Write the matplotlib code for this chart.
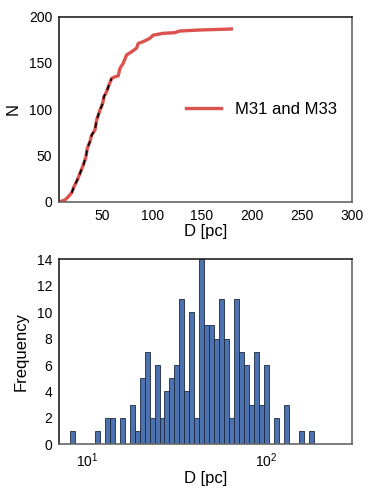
import numpy as np
import matplotlib
matplotlib.use("Agg")
import matplotlib.pyplot as plt

plt.rcParams['font.family'] = ['Liberation Sans', 'DejaVu Sans']

# curva acumulada N(D)
d_cum = [7.7, 12.7, 16.0, 19.4, 21.7, 25.0, 27.7, 31.0, 33.7, 35.0, 37.7, 39.4,
         42.7, 44.4, 47.7, 50.4, 51.7, 54.4, 56.7, 59.4, 62.7, 66.0, 67.7, 71.0,
         74.4, 79.4, 84.4, 86.0, 91.0, 97.7, 101.0, 111.0, 122.7, 127.7, 147.7, 179.4]
n_cum = [0, 1.8, 5.4, 9.7, 16.2, 23.4, 30.6, 39.6, 48.6, 57.7, 64.9, 72.0,
         77.5, 88.3, 99.0, 106.0, 113.5, 119.0, 126.0, 133.3, 135.0, 136.0, 144.0, 149.5,
         158.6, 162.0, 166.0, 171.0, 173.0, 176.6, 180.0, 182.0, 182.7, 184.5, 185.6, 186.7]

# tramo con linea negra discontinua
fit_start, fit_end = 3, 20

# histograma: 49 bins logaritmicos entre D min y D max
d_min, d_max = 8.04, 183.6
n_bins = 49
counts = [1, 0, 0, 0, 0, 1, 0, 2, 2, 0, 2, 0, 3, 1, 5, 7, 2, 6, 2, 4, 5, 6, 11, 4, 10,
          2, 14, 9, 9, 8, 11, 8, 2, 11, 7, 6, 3, 7, 3, 6, 0, 2, 0, 3, 0, 0, 1, 0, 1]

fig = plt.figure(figsize=(3.74, 4.98), dpi=100)
ax1 = fig.add_axes([0.1586, 0.595, 0.7818, 0.3715])
ax2 = fig.add_axes([0.1586, 0.1078, 0.7818, 0.3715])

red = '#DB524E'
ax1.plot(d_cum, n_cum, color=red, lw=2.4, label='M31 and M33')
ax1.plot(d_cum[fit_start:fit_end], n_cum[fit_start:fit_end], color='k', ls=(0, (3, 2.5)), lw=1.3)
ax1.set_xlim(7, 300)
ax1.set_ylim(0, 200)
ax1.set_xticks([50, 100, 150, 200, 250, 300])
ax1.set_yticks([0, 50, 100, 150, 200])
ax1.set_xlabel('D [pc]', fontsize=12, labelpad=1)
ax1.set_ylabel('N', fontsize=12, labelpad=6)
ax1.legend(loc='center right', frameon=False, fontsize=12, handlelength=2.1,
           bbox_to_anchor=(1.0, 0.5))

edges = np.logspace(np.log10(d_min), np.log10(d_max), n_bins + 1)
centers = np.sqrt(edges[:-1] * edges[1:])
ax2.hist(centers, bins=edges, weights=counts, color='#4C72B0', edgecolor='#1c2a40', lw=0.6)
ax2.set_xscale('log')
ax2.set_xlim(7, 300)
ax2.set_ylim(0, 14)
ax2.set_yticks(range(0, 15, 2))
ax2.set_xlabel('D [pc]', fontsize=12, labelpad=1)
ax2.set_ylabel('Frequency', fontsize=12, labelpad=6)
ax2.minorticks_off()

for ax in (ax1, ax2):
    ax.tick_params(length=0, labelsize=10, pad=5)
    ax.spines['top'].set_color('#222222')
    ax.spines['left'].set_color('#222222')
    ax.spines['bottom'].set_color('#666666')
    ax.spines['right'].set_color('#666666')
    for s in ax.spines.values():
        s.set_linewidth(1.2)

fig.savefig('out.png', dpi=100)
